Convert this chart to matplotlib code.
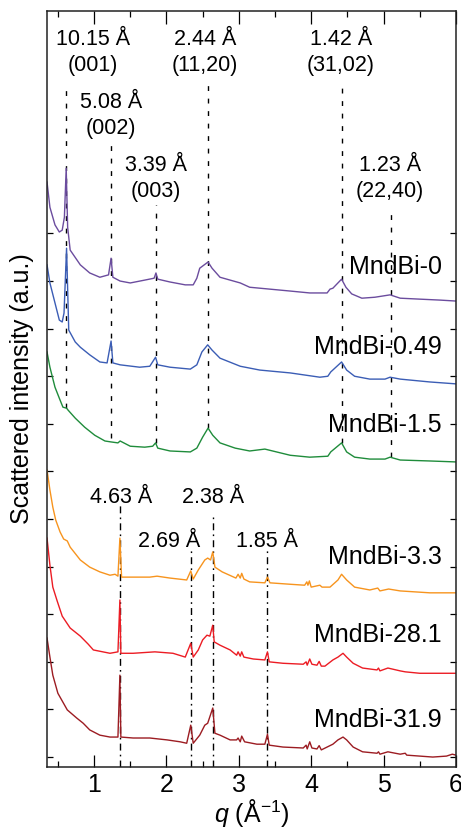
import numpy as np
import matplotlib
matplotlib.use('Agg')
import matplotlib.pyplot as plt

plt.rcParams['font.family'] = ['Liberation Sans', 'DejaVu Sans']
plt.rcParams['mathtext.fontset'] = 'custom'
plt.rcParams['mathtext.rm'] = 'Liberation Sans'
plt.rcParams['mathtext.it'] = 'Liberation Sans:italic'

# scattering curves, q in 1/A, intensity in a.u. (offset for clarity)
q_0 = [0.35, 0.39, 0.46, 0.52, 0.56, 0.59, 0.615, 0.635, 0.67, 0.81, 0.94, 1.08, 1.20, 1.235, 1.26, 1.36,
       1.50, 1.70, 1.83, 1.855, 1.88, 2.05, 2.26, 2.37, 2.42, 2.46, 2.575, 2.63, 2.74, 3.02, 3.15, 3.29,
       3.43, 3.71, 3.98, 4.22, 4.26, 4.30, 4.42, 4.48, 4.56, 4.70, 4.88, 5.09, 5.23, 5.50, 5.78, 6.0]
i_0 = [12.08, 11.55, 11.18, 11.03, 11.07, 11.34, 12.37, 11.13, 10.65, 10.34, 10.17, 10.08, 10.13, 10.48,
       10.08, 10.00, 9.96, 10.02, 10.06, 10.17, 10.04, 9.98, 9.92, 9.92, 10.06, 10.27, 10.40, 10.27, 10.08,
       9.96, 9.87, 9.85, 9.83, 9.79, 9.75, 9.75, 9.83, 9.85, 10.04, 9.87, 9.73, 9.64, 9.66, 9.71, 9.64,
       9.62, 9.60, 9.58]

q_049 = [0.35, 0.39, 0.46, 0.52, 0.56, 0.585, 0.62, 0.65, 0.74, 0.81, 0.94, 1.08, 1.18, 1.235, 1.26, 1.36,
         1.63, 1.77, 1.85, 1.88, 2.05, 2.33, 2.42, 2.49, 2.57, 2.63, 2.74, 3.02, 3.29, 3.71, 4.12, 4.23,
         4.27, 4.42, 4.49, 4.60, 4.81, 5.02, 5.09, 5.23, 5.64, 6.0]
i_049 = [10.34, 9.96, 9.54, 9.18, 9.14, 9.33, 10.69, 8.97, 8.72, 8.61, 8.45, 8.30, 8.28, 8.74, 8.28, 8.24,
         8.19, 8.21, 8.40, 8.24, 8.19, 8.15, 8.24, 8.51, 8.66, 8.55, 8.38, 8.21, 8.13, 8.07, 7.98, 8.00,
         8.09, 8.30, 8.13, 8.00, 7.94, 7.94, 7.98, 7.94, 7.88, 7.84]

q_15 = [0.35, 0.39, 0.46, 0.53, 0.57, 0.62, 0.64, 0.74, 0.87, 1.01, 1.15, 1.235, 1.33, 1.36, 1.50, 1.70,
        1.81, 1.85, 1.88, 2.05, 2.33, 2.42, 2.50, 2.575, 2.64, 2.74, 2.95, 3.15, 3.36, 3.71, 3.98, 4.23,
        4.27, 4.42, 4.49, 4.60, 4.81, 5.02, 5.09, 5.23, 5.64, 6.0]
i_15 = [8.51, 8.19, 7.77, 7.50, 7.35, 7.33, 7.29, 7.12, 6.93, 6.76, 6.64, 6.62, 6.60, 6.64, 6.53, 6.51,
        6.53, 6.60, 6.49, 6.43, 6.41, 6.49, 6.72, 6.91, 6.76, 6.60, 6.49, 6.43, 6.47, 6.34, 6.30, 6.32,
        6.41, 6.60, 6.41, 6.30, 6.26, 6.26, 6.30, 6.24, 6.22, 6.20]

q_33 = [0.35, 0.39, 0.43, 0.47, 0.53, 0.58, 0.63, 0.67, 0.81, 0.94, 1.08, 1.22, 1.29, 1.33, 1.357, 1.38,
        1.50, 1.77, 1.87, 2.05, 2.28, 2.336, 2.37, 2.44, 2.53, 2.57, 2.61, 2.64, 2.67, 2.77, 2.96, 2.99,
        3.02, 3.04, 3.07, 3.15, 3.36, 3.396, 3.43, 3.71, 3.91, 3.94, 3.955, 3.975, 4.00, 4.12, 4.15, 4.26,
        4.37, 4.42, 4.49, 4.60, 4.81, 4.92, 4.95, 5.07, 5.23, 5.64, 6.0]
i_33 = [6.03, 5.61, 5.25, 4.98, 4.73, 4.58, 4.54, 4.41, 4.14, 3.99, 3.89, 3.82, 3.84, 3.80, 4.60, 3.78,
        3.78, 3.78, 3.80, 3.76, 3.72, 3.91, 3.74, 3.93, 4.14, 4.18, 4.14, 4.31, 3.99, 3.89, 3.76, 3.84,
        3.76, 3.86, 3.74, 3.68, 3.66, 3.78, 3.66, 3.63, 3.61, 3.68, 3.61, 3.70, 3.57, 3.61, 3.57, 3.57,
        3.72, 3.84, 3.72, 3.57, 3.51, 3.55, 3.49, 3.53, 3.49, 3.45, 3.45]

q_281 = [0.35, 0.39, 0.43, 0.49, 0.56, 0.67, 0.81, 0.92, 0.99, 1.22, 1.33, 1.357, 1.37, 1.54, 1.84, 2.09,
         2.26, 2.336, 2.37, 2.44, 2.50, 2.56, 2.60, 2.64, 2.66, 2.74, 2.88, 2.97, 2.99, 3.02, 3.04, 3.07,
         3.20, 3.36, 3.396, 3.42, 3.61, 3.89, 3.93, 3.945, 3.98, 4.01, 4.08, 4.11, 4.14, 4.19, 4.30, 4.37,
         4.44, 4.49, 4.58, 4.71, 4.91, 4.93, 4.95, 5.06, 5.23, 5.30, 5.50, 5.78, 6.0]
i_281 = [4.60, 4.03, 3.57, 3.28, 2.96, 2.71, 2.54, 2.37, 2.25, 2.18, 2.21, 3.30, 2.18, 2.18, 2.21, 2.18,
         2.10, 2.39, 2.10, 2.25, 2.46, 2.56, 2.54, 2.77, 2.42, 2.35, 2.25, 2.14, 2.21, 2.12, 2.21, 2.10,
         2.06, 2.04, 2.21, 2.00, 1.97, 1.95, 2.00, 1.93, 2.06, 1.95, 1.93, 2.01, 1.91, 1.91, 2.04, 2.10,
         2.18, 2.10, 1.97, 1.87, 1.83, 1.87, 1.81, 1.87, 1.81, 1.79, 1.76, 1.76, 1.76]

q_319 = [0.35, 0.39, 0.43, 0.50, 0.63, 0.76, 0.85, 0.94, 1.08, 1.22, 1.33, 1.357, 1.37, 1.54, 1.77, 2.01,
         2.19, 2.28, 2.336, 2.37, 2.46, 2.53, 2.57, 2.64, 2.67, 2.74, 2.88, 2.97, 2.99, 3.02, 3.04, 3.08,
         3.25, 3.36, 3.396, 3.42, 3.61, 3.89, 3.93, 3.945, 3.98, 4.01, 4.08, 4.11, 4.14, 4.30, 4.37, 4.44,
         4.49, 4.58, 4.71, 4.91, 4.93, 4.95, 5.06, 5.23, 5.30, 5.32, 5.68, 5.87, 5.95, 6.0]
i_319 = [2.50, 2.10, 1.72, 1.34, 0.99, 0.82, 0.71, 0.57, 0.46, 0.42, 0.42, 1.72, 0.42, 0.40, 0.40, 0.36,
         0.32, 0.29, 0.67, 0.29, 0.46, 0.67, 0.71, 1.03, 0.50, 0.46, 0.36, 0.36, 0.40, 0.32, 0.44, 0.32,
         0.27, 0.27, 0.48, 0.25, 0.21, 0.19, 0.25, 0.17, 0.32, 0.19, 0.17, 0.24, 0.15, 0.27, 0.36, 0.42,
         0.36, 0.21, 0.11, 0.08, 0.11, 0.06, 0.11, 0.06, 0.08, 0.04, 0.00, 0.02, 0.06, 0.04]

curves = [
    (q_0, i_0, '#6b4c9e', 'MndBi-0', 10.29),
    (q_049, i_049, '#3b5db5', 'MndBi-0.49', 8.61),
    (q_15, i_15, '#1f8c3b', 'MndBi-1.5', 6.97),
    (q_33, i_33, '#f7941e', 'MndBi-3.3', 4.20),
    (q_281, i_281, '#ec1c24', 'MndBi-28.1', 2.56),
    (q_319, i_319, '#9c1c22', 'MndBi-31.9', 0.78),
]

# layered phase reflections (d-spacing in A), dashed guides
d_top = [10.15, 5.08, 3.39, 2.44, 1.42, 1.23]
top_y0 = [7.33, 6.70, 6.60, 6.91, 6.60, 6.30]
top_y1 = [14.16, 12.86, 11.60, 14.16, 14.16, 11.43]
top_text = ['10.15 Å\n(001)', '5.08 Å\n(002)', '3.39 Å\n(003)', '2.44 Å\n(11,20)', '1.42 Å\n(31,02)',
            '1.23 Å\n(22,40)']
top_text_q = [0.985, 1.23, 1.85, 2.53, 4.41, 5.09]
top_text_i = [14.80, 13.47, 12.15, 14.80, 14.80, 12.15]

# crystalline phase reflections, dash-dot guides
d_low = [4.63, 2.69, 2.38, 1.85]
low_y1 = [5.36, 4.41, 5.13, 4.35]
low_text = ['4.63 Å', '2.69 Å', '2.38 Å', '1.85 Å']
low_text_q = [1.37, 2.035, 2.64, 3.39]
low_text_i = [5.46, 4.52, 5.46, 4.52]

fig = plt.figure(figsize=(4.61, 8.27), dpi=100)
ax = fig.add_axes([0.102, 0.0725, 0.887, 0.914])

ymin, ymax = -0.21, 15.67

for d, y0, y1 in zip(d_top, top_y0, top_y1):
    q = 2 * np.pi / d
    ax.plot([q, q], [y0, y1], color='black', lw=1.0, dashes=(3.5, 5.5), zorder=1)
for d, y1 in zip(d_low, low_y1):
    q = 2 * np.pi / d
    ax.plot([q, q], [ymin, y1], color='black', lw=1.0, dashes=(5, 3, 1.2, 3), zorder=1)

for q, i, c, name, ly in curves:
    ax.plot(q, i, color=c, lw=1.0, zorder=2)
    ax.text(5.806, ly, name, ha='right', va='center', fontsize=18)

for s, x, y in zip(top_text, top_text_q, top_text_i):
    ax.text(x, y, s, ha='center', va='center', fontsize=15.5, linespacing=1.3)
for s, x, y in zip(low_text, low_text_q, low_text_i):
    ax.text(x, y, s, ha='center', va='center', fontsize=15.5)

ax.set_xlim(0.35, 6.0)
ax.set_ylim(ymin, ymax)
ax.set_xticks([1, 2, 3, 4, 5, 6])
ax.set_xticks(np.arange(0.5, 6.0, 0.5), minor=True)
ax.set_yticks(np.arange(0, 12))
ax.set_yticklabels([])
ax.tick_params(axis='x', which='major', direction='in', top=True, length=9, width=0.9,
               labelsize=18, pad=4)
ax.tick_params(axis='x', which='minor', direction='in', top=True, length=4.5, width=0.9)
ax.tick_params(axis='y', which='major', direction='in', right=True, length=4, width=0.9)
for sp in ax.spines.values():
    sp.set_linewidth(1.1)
    sp.set_color('#222222')

ax.set_xlabel(r'$\mathit{q}$ (Å$^{-1}$)', fontsize=18, labelpad=0)
ax.set_ylabel('Scattered intensity (a.u.)', fontsize=18, labelpad=6)

fig.savefig('out.png', dpi=100)
